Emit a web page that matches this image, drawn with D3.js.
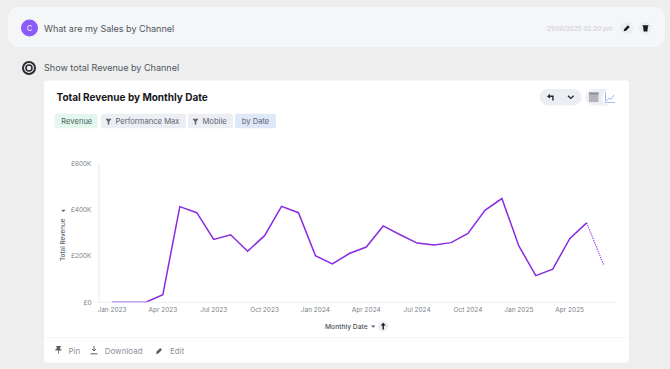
<!DOCTYPE html>
<html><head><meta charset="utf-8">
<script src="https://cdn.jsdelivr.net/npm/d3@7"></script>
<style>
html,body{margin:0;padding:0;background:#eeeeee;overflow:hidden}
svg{display:block;font-family:Inter,"Noto Sans",sans-serif}
</style></head><body><svg id="c" width="670" height="369"></svg>
<script>
const months=["2023-01","2023-02","2023-03","2023-04","2023-05","2023-06","2023-07","2023-08","2023-09","2023-10","2023-11","2023-12","2024-01","2024-02","2024-03","2024-04","2024-05","2024-06","2024-07","2024-08","2024-09","2024-10","2024-11","2024-12","2025-01","2025-02","2025-03","2025-04","2025-05","2025-06"];
const revenue=[0,0,0,33,412,386,271,291,220,287,413,386,201,165,210,238,329,291,255,247,257,297,396,447,243,115,143,274,342,162];
const yTicks=[0,200,400,600];
const xTickMonths=["2023-01","2023-04","2023-07","2023-10","2024-01","2024-04","2024-07","2024-10","2025-01","2025-04"];
const chips=[["Revenue",54.5,43,"#e3f7ef","#47655c",false],["Performance Max",101,85,"#eceef3","#5d6472",true],["Mobile",188,45,"#eceef3","#5d6472",true],["by Date",235,41,"#dfe8f8","#5d6472",false]];

const svg=d3.select("#c");
const parse=d3.timeParse("%Y-%m");
const fmt=d3.timeFormat("%Y-%m");
const x=d3.scaleTime().domain([parse("2023-01"),parse("2025-04")]).range([112,569.7]);
const xi=d3.scaleLinear().domain([0,27]).range([112,569.7]);
const y=d3.scaleLinear().domain([0,600]).range([302.3,163]);

const txt=(t,px,py,size,fill,weight,anchor)=>svg.append("text").attr("x",px).attr("y",py).attr("font-size",size).attr("fill",fill).attr("font-weight",weight||400).attr("text-anchor",anchor||"start").text(t);
const btn=(cx,cy,r,fill)=>svg.append("circle").attr("cx",cx).attr("cy",cy).attr("r",r).attr("fill",fill);

// Question panel
svg.append("rect").attr("x",8).attr("y",7).attr("width",657).attr("height",40).attr("rx",11).attr("fill","#f5f6f8");
btn(29.5,28,8.5,"#8b5cf6");
txt("C",29.5,30.6,7.5,"#e8defc",500,"middle");
txt("What are my Sales by Channel",44,31.5,9.05,"#4f5560",400);
txt("21/06/2025 02:20 pm",612.5,30.5,6.4,"#c9cbd2",400,"end");
btn(627,28,6.3,"#eceef2"); btn(645.5,28,6.3,"#eceef2");
svg.append("path").attr("d","M623.7 31.3l.6-2.4 3.6-3.6 1.8 1.8-3.6 3.6z").attr("fill","#16181d");
svg.append("path").attr("d","M642.6 25.3h5.8v1h-.5l-.5 5.2h-3.8l-.5-5.2h-.5z").attr("fill","#16181d");

// Assistant heading
svg.append("circle").attr("cx",29).attr("cy",68).attr("r",6).attr("fill","none").attr("stroke","#2a2c32").attr("stroke-width",2);
svg.append("circle").attr("cx",29).attr("cy",68).attr("r",3).attr("fill","none").attr("stroke","#2a2c32").attr("stroke-width",1.6);
txt("Show total Revenue by Channel",44,71.3,9.05,"#4f5560",400);

// Card
svg.append("rect").attr("x",44).attr("y",80.5).attr("width",585).attr("height",282).attr("rx",3).attr("fill","#fff");
txt("Total Revenue by Monthly Date",56.5,100.5,10,"#17181c",700);
svg.append("line").attr("x1",44).attr("x2",629).attr("y1",337.7).attr("y2",337.7).attr("stroke","#f6f6f7");

// Chips
chips.forEach(([label,cx,w,fill,col,filt])=>{
  svg.append("rect").attr("x",cx).attr("y",113.7).attr("width",w).attr("height",14.5).attr("rx",2.5).attr("fill",fill);
  if(filt) svg.append("path").attr("d",`M${cx+4.5} 118.8h6l-2.2 2.6v3h-1.6v-3z`).attr("fill",col);
  txt(label,cx+(filt?14.5:6.8),124,7.6,col,400);
});

// Toolbar
svg.append("rect").attr("x",539.5).attr("y",89).attr("width",42).attr("height",16.5).attr("rx",8.2).attr("fill","#eceef3");
svg.append("path").attr("d","M547 96.5l3-2.8v1.8h3.6v5h-1.4v-3.6h-2.2v1.6z").attr("fill","#22252b");
svg.append("path").attr("d","M568 95.8l2.8 2.6 2.8-2.6").attr("fill","none").attr("stroke","#22252b").attr("stroke-width",1.3);
svg.append("rect").attr("x",585.5).attr("y",89).attr("width",33).attr("height",16.5).attr("rx",8.2).attr("fill","#eceef3");
svg.append("circle").attr("cx",610.5).attr("cy",97.2).attr("r",8.2).attr("fill","#fff");
svg.append("rect").attr("x",589).attr("y",92.5).attr("width",9.5).attr("height",9.5).attr("fill","#b4b4b8");
svg.append("rect").attr("x",589).attr("y",92.5).attr("width",9.5).attr("height",2).attr("fill","#8e8e93");
svg.append("path").attr("d","M605.5 92v10.5h9.5M606.5 101l2.5-3 2 1.5 3-4.5").attr("fill","none").attr("stroke","#8fb8ee").attr("stroke-width",.9);

// Line (axes are painted over it, so the zero stretch looks faint as in the picture)
const line=d3.line().x(d=>xi(d.i)).y(d=>y(d.v));
const pts=revenue.map((v,i)=>({i,v}));
svg.append("path").attr("d",line(pts.slice(0,29))).attr("fill","none").attr("stroke","#8a2be2").attr("stroke-width",1.5);
svg.append("path").attr("d",line(pts.slice(28))).attr("fill","none").attr("stroke","#8a2be2").attr("stroke-width",1.2).attr("stroke-dasharray","1.3 1").attr("opacity",.85);

// Axes
const gy=svg.append("g").attr("transform","translate(98.5,0)").call(d3.axisLeft(y).tickValues(yTicks).tickSize(0).tickPadding(7).tickFormat(d=>d?`£${d}K`:"£0"));
gy.select(".domain").attr("stroke","#ecedf0").attr("stroke-width",1.2);
gy.selectAll("text").attr("font-size",6.5).attr("fill","#7b7f88").attr("font-family","Inter,sans-serif");
const gx=svg.append("g").attr("transform","translate(0,302.3)").call(d3.axisBottom(x).tickValues(xTickMonths.map(parse)).tickSize(0).tickPadding(5.5).tickFormat(d3.timeFormat("%b %Y")));
gx.select(".domain").attr("d","M98.5 0H617").attr("stroke","#ecedf0").attr("stroke-width",1.2).attr("opacity",.8);
gx.selectAll("text").attr("font-size",6.5).attr("fill","#7b7f88").attr("font-family","Inter,sans-serif");
gx.selectAll(".tick").attr("transform",d=>`translate(${xi(months.indexOf(fmt(d)))},0)`);

// Axis titles
svg.append("text").attr("transform","translate(65.3,261) rotate(-90)").attr("font-size",6.3).attr("font-weight",500).attr("fill","#5b5e66").text("Total Revenue");
svg.append("path").attr("d","M61.2 209.7l2.2 2.2 2.2-2.2z").attr("fill","#5b5e66");
txt("Monthly Date",325,329,6.7,"#50535b",500);
svg.append("path").attr("d","M371 325.4h4.4l-2.2 2.4z").attr("fill","#5b5e66");
btn(383.2,326.3,5.2,"#eceef3");
svg.append("path").attr("d","M383.2 322.8l2.6 2.6h-1.9v4h-1.4v-4h-1.9z").attr("fill","#16181d");

// Footer
const foot=[["Pin",68.5],["Download",104.7],["Edit",170]];
foot.forEach(([t,px])=>txt(t,px,353.5,8,"#8d919b",400));
svg.append("path").attr("d","M56.5 346h4.6v1h-1.2l.7 2.4h1v1h-2.8v3.2h-.8v-3.2h-2.8v-1h1l.7-2.4h-1.2z").attr("fill","#5b5e66");
svg.append("path").attr("d","M94 346v4.5M92 349l2 2 2-2M90.5 353.8h7").attr("fill","none").attr("stroke","#5b5e66").attr("stroke-width",1);
svg.append("path").attr("d","M156 354l.6-2.4 3.6-3.6 1.8 1.8-3.6 3.6z").attr("fill","#5b5e66");
</script></body></html>
